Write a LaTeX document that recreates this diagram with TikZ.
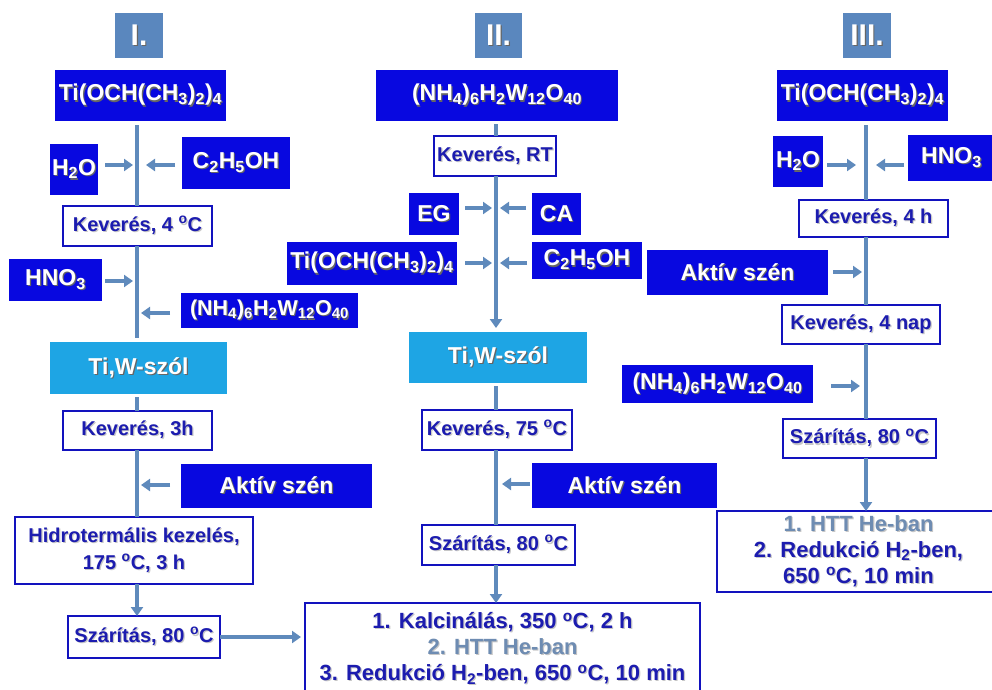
\documentclass[tikz,border=0pt]{standalone}
\usepackage{fontspec}
\setmainfont{Liberation Sans}
\usetikzlibrary{arrows.meta}
\definecolor{dblue}{RGB}{8,8,224}
\definecolor{lblue}{RGB}{30,165,228}
\definecolor{sblue}{RGB}{90,135,190}
\definecolor{nblue}{RGB}{28,28,175}
\definecolor{bord}{RGB}{18,18,190}
\definecolor{gtext}{RGB}{110,140,178}
\definecolor{linec}{RGB}{95,138,188}
\newcommand\shw[1]{\leavevmode\rlap{\kern1.2pt\raisebox{-1.2pt}{\color{black!60}#1}}#1}
\newcommand\shb[1]{\leavevmode\rlap{\kern1.2pt\raisebox{-1.2pt}{\color{black!22}#1}}#1}
\newcommand\dg{\textsuperscript{o}}
\tikzset{
 base/.style={inner sep=0pt, outer sep=0pt, align=center, font=\bfseries\fontsize{23}{26}\selectfont},
 dbox/.style={base, fill=dblue, text=white},
 lbox/.style={base, fill=lblue, text=white},
 rbox/.style={base, fill=sblue, text=white, font=\bfseries\fontsize{30}{32}\selectfont},
 wbox/.style={base, draw=bord, line width=2.5pt, fill=white, text=nblue, font=\bfseries\fontsize{20}{27}\selectfont},
 finbox/.style={wbox, font=\bfseries\fontsize{22}{26}\selectfont},
 conn/.style={draw=linec, line width=3.5pt},
 arr/.style={conn, -{Triangle[width=12pt,length=9pt]}},
 sz/.style 2 args={minimum width=#1pt, minimum height=#2pt},
}
\begin{document}
\begin{tikzpicture}[x=1pt,y=-1pt]
\fill[white] (0,0) rectangle (992,689);
\useasboundingbox (0,0) rectangle (992,689);
% ---------- column I ----------
\node[rbox, sz={48}{45}] (r1) at (139,35.5) {\shw{I.}};
\node[dbox, sz={171}{51}] (t1) at (140.5,95.5) {\shw{Ti(OCH(CH\textsubscript{3})\textsubscript{2})\textsubscript{4}}};
\node[dbox, sz={48}{51}] (h2oA) at (74,169.5) {\shw{H\textsubscript{2}O}};
\node[dbox, sz={108}{52}] (etohA) at (236,163) {\shw{C\textsubscript{2}H\textsubscript{5}OH}};
\node[wbox, sz={149}{40}] (k1) at (137.5,226) {\shb{Keverés, 4 \dg C}};
\node[dbox, sz={93}{42}] (hno3A) at (55.5,280) {\shw{HNO\textsubscript{3}}};
\node[dbox, sz={177}{35}, font=\bfseries\fontsize{21.5}{26}\selectfont] (ammA) at (269.5,310.5) {\shw{(NH\textsubscript{4})\textsubscript{6}H\textsubscript{2}W\textsubscript{12}O\textsubscript{40}}};
\node[lbox, sz={177}{52}] (solA) at (138.5,368) {\shw{Ti,W-szól}};
\node[wbox, sz={149}{39}] (k3h) at (137.5,430.5) {\shb{Keverés, 3h}};
\node[dbox, sz={191}{44}] (aktA) at (276.5,486) {\shw{Aktív szén}};
\node[wbox, sz={238}{67}] (hidro) at (134,550.5) {\shb{Hidrotermális kezelés,}\\\shb{175 \dg C, 3 h}};
\node[wbox, sz={152}{42}] (szarA) at (144,637) {\shb{Szárítás, 80 \dg C}};
% ---------- column II ----------
\node[rbox, sz={47}{45}] (r2) at (498.5,35.5) {\shw{II.}};
\node[dbox, sz={242}{51}] (amm2) at (497,95.5) {\shw{(NH\textsubscript{4})\textsubscript{6}H\textsubscript{2}W\textsubscript{12}O\textsubscript{40}}};
\node[wbox, sz={122}{40}] (kRT) at (495,156) {\shb{Keverés, RT}};
\node[dbox, sz={50}{42}] (EG) at (434,214) {\shw{EG}};
\node[dbox, sz={49}{42}] (CA) at (556.5,214) {\shw{CA}};
\node[dbox, sz={170}{43}] (ti2) at (372,263.5) {\shw{Ti(OCH(CH\textsubscript{3})\textsubscript{2})\textsubscript{4}}};
\node[dbox, sz={110}{37}] (etoh2) at (587,260.5) {\shw{C\textsubscript{2}H\textsubscript{5}OH}};
\node[lbox, sz={178}{51}] (sol2) at (498,357.5) {\shw{Ti,W-szól}};
\node[wbox, sz={150}{40}] (k75) at (497,430) {\shb{Keverés, 75 \dg C}};
\node[dbox, sz={185}{45}] (akt2) at (624.5,485.5) {\shw{Aktív szén}};
\node[wbox, sz={153}{40}] (szar2) at (498.5,545) {\shb{Szárítás, 80 \dg C}};
\node[finbox, sz={395}{92}] (final2) at (502.5,649) {\shb{1. Kalcinálás, 350 \dg C, 2 h}\\{\color{gtext}\shb{2. HTT He-ban}}\\\shb{3. Redukció H\textsubscript{2}-ben, 650 \dg C, 10 min}};
% ---------- column III ----------
\node[rbox, sz={48}{45}] (r3) at (867,35.5) {\shw{III.}};
\node[dbox, sz={171}{51}] (ti3) at (862.5,95.5) {\shw{Ti(OCH(CH\textsubscript{3})\textsubscript{2})\textsubscript{4}}};
\node[dbox, sz={50}{51}] (h2o3) at (798,161.5) {\shw{H\textsubscript{2}O}};
\node[dbox, sz={87}{46}] (hno33) at (951.5,158) {\shw{HNO\textsubscript{3}}};
\node[wbox, sz={149}{37}] (k4h) at (873.5,218.5) {\shb{Keverés, 4 h}};
\node[dbox, sz={181}{45}] (akt3) at (737.5,272.5) {\shw{Aktív szén}};
\node[wbox, sz={158}{39}] (k4nap) at (861,324.5) {\shb{Keverés, 4 nap}};
\node[dbox, sz={191}{38}] (amm3) at (717.5,384) {\shw{(NH\textsubscript{4})\textsubscript{6}H\textsubscript{2}W\textsubscript{12}O\textsubscript{40}}};
\node[wbox, sz={153}{39}] (szar3) at (859.5,438.5) {\shb{Szárítás, 80 \dg C}};
\node[finbox, sz={283}{81}] (final3) at (858.5,551.5) {{\color{gtext}\shb{1. HTT He-ban}}\\\shb{2. Redukció H\textsubscript{2}-ben,}\\\shb{650 \dg C, 10 min}};
% ---------- connectors column I ----------
\coordinate (L1) at (137,0);
\coordinate (a1) at (133,165);
\coordinate (a2) at (146,165);
\coordinate (a3) at (133,281);
\coordinate (a4) at (141,313);
\coordinate (a5) at (141,485);
\draw[conn, shorten <=4pt] (t1.south -| L1) -- (k1.north -| L1);
\draw[conn, shorten >=4pt] (k1.south -| L1) -- (solA.north -| L1);
\draw[conn, shorten <=3pt] (solA.south -| L1) -- (k3h.north -| L1);
\draw[conn] (k3h.south -| L1) -- (hidro.north -| L1);
\draw[arr] (hidro.south -| L1) -- (szarA.north -| L1);
\draw[arr, shorten >=4pt] (szarA.east) -- (szarA.east -| final2.west);
\draw[arr, shorten <=7pt] (h2oA.east |- a1) -- (a1);
\draw[arr, shorten <=7pt] (etohA.west |- a2) -- (a2);
\draw[arr, shorten <=3pt] (hno3A.east |- a3) -- (a3);
\draw[arr, shorten <=11pt] (ammA.west |- a4) -- (a4);
\draw[arr, shorten <=11pt] (aktA.west |- a5) -- (a5);
% ---------- connectors column II ----------
\coordinate (L2) at (496,0);
\coordinate (b1) at (492,208);
\coordinate (b2) at (500,208);
\coordinate (b3) at (492,263);
\coordinate (b4) at (500,263);
\coordinate (b5) at (502,484);
\draw[conn, shorten <=3pt] (amm2.south -| L2) -- (kRT.north -| L2);
\draw[arr, shorten >=4pt] (kRT.south -| L2) -- (sol2.north -| L2);
\draw[conn, shorten <=3pt] (sol2.south -| L2) -- (k75.north -| L2);
\draw[conn] (k75.south -| L2) -- (szar2.north -| L2);
\draw[arr] (szar2.south -| L2) -- (final2.north -| L2);
\draw[arr, shorten <=6pt] (EG.east |- b1) -- (b1);
\draw[arr, shorten <=6pt] (CA.west |- b2) -- (b2);
\draw[arr, shorten <=8pt] (ti2.east |- b3) -- (b3);
\draw[arr, shorten <=5pt] (etoh2.west |- b4) -- (b4);
\draw[arr, shorten <=2pt] (akt2.west |- b5) -- (b5);
% ---------- connectors column III ----------
\coordinate (L3) at (866,0);
\coordinate (c1) at (856,165);
\coordinate (c2) at (876,165);
\coordinate (c3) at (862,272);
\coordinate (c4) at (860,386);
\draw[conn, shorten <=4pt] (ti3.south -| L3) -- (k4h.north -| L3);
\draw[conn] (k4h.south -| L3) -- (k4nap.north -| L3);
\draw[conn] (k4nap.south -| L3) -- (szar3.north -| L3);
\draw[arr] (szar3.south -| L3) -- (final3.north -| L3);
\draw[arr, shorten <=4pt] (h2o3.east |- c1) -- (c1);
\draw[arr, shorten <=4pt] (hno33.west |- c2) -- (c2);
\draw[arr, shorten <=5pt] (akt3.east |- c3) -- (c3);
\draw[arr, shorten <=18pt] (amm3.east |- c4) -- (c4);
\end{tikzpicture}
\end{document}
